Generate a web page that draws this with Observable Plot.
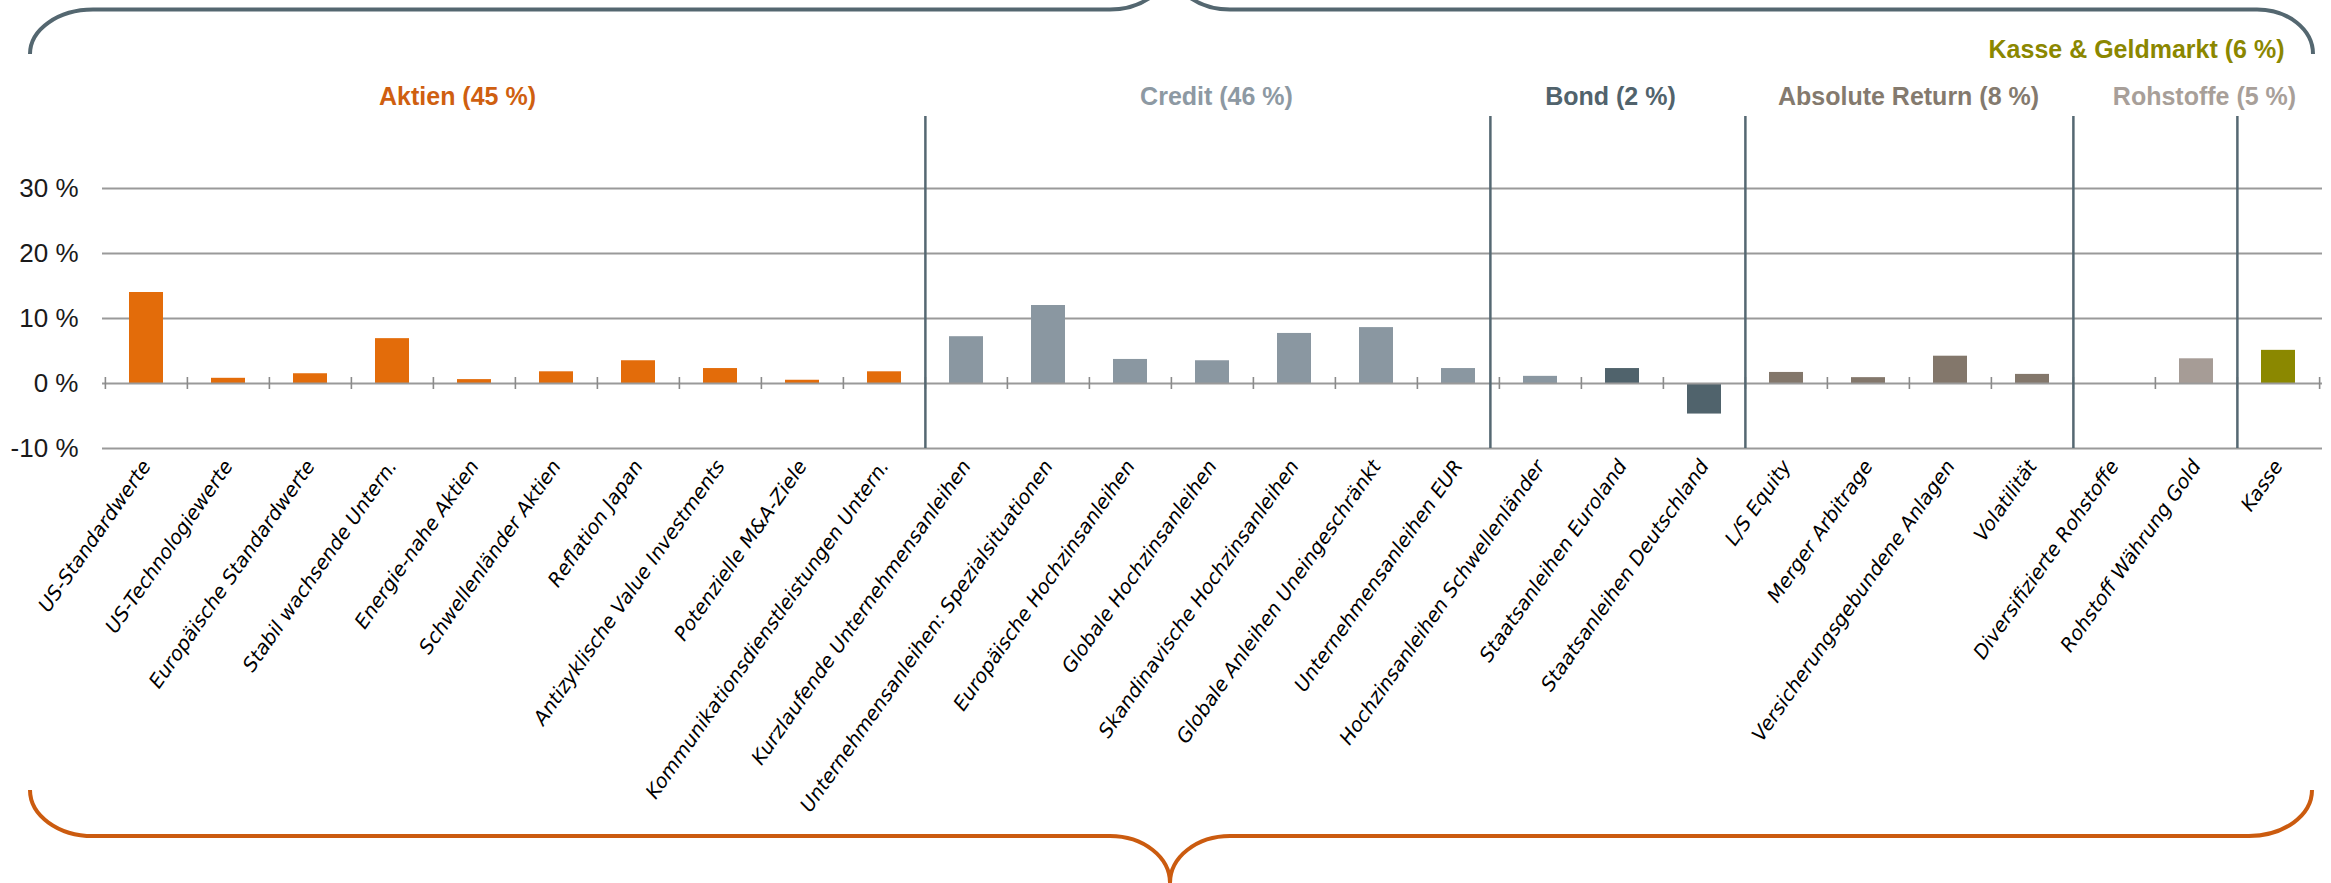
<!DOCTYPE html>
<html><head><meta charset="utf-8">
<script src="https://cdn.jsdelivr.net/npm/d3@7"></script>
<script src="https://cdn.jsdelivr.net/npm/@observablehq/plot@0.6"></script>
<style>html,body{margin:0;padding:0;background:#fff}svg{display:block}</style>
</head><body><div id="chart"></div>
<script>
const categories = [
  "US-Standardwerte","US-Technologiewerte","Europäische Standardwerte","Stabil wachsende Untern.",
  "Energie-nahe Aktien","Schwellenländer Aktien","Reflation Japan","Antizyklische Value Investments",
  "Potenzielle M&A-Ziele","Kommunikationsdienstleistungen Untern.",
  "Kurzlaufende Unternehmensanleihen","Unternehmensanleihen: Spezialsituationen","Europäische Hochzinsanleihen",
  "Globale Hochzinsanleihen","Skandinavische Hochzinsanleihen","Globale Anleihen Uneingeschränkt",
  "Unternehmensanleihen EUR","Hochzinsanleihen Schwellenländer","Staatsanleihen Euroland","Staatsanleihen Deutschland",
  "L/S Equity","Merger Arbitrage","Versicherungsgebundene Anlagen","Volatilität",
  "Diversifizierte Rohstoffe","Rohstoff Währung Gold","Kasse"
];
const values = [14.0,0.8,1.5,6.9,0.6,1.8,3.5,2.3,0.5,1.8,
  7.2,12.0,3.7,3.5,7.7,8.6,2.3,1.1,2.3,-4.7,
  1.7,0.9,4.2,1.4,0,3.8,5.1];
const barGroups = [
  "Aktien","Aktien","Aktien","Aktien","Aktien","Aktien","Aktien","Aktien","Aktien","Aktien",
  "Credit","Credit","Credit","Credit","Credit","Credit","Credit","Credit","Bond","Bond",
  "Absolute Return","Absolute Return","Absolute Return","Absolute Return",
  "Rohstoffe","Rohstoffe","Kasse"
];
const groupNames = ["Aktien","Credit","Bond","Absolute Return","Rohstoffe","Kasse"];
const barColors = ["#e36c0a","#8a97a1","#50636c","#83776b","#a69c96","#8b8800"];
const groupLabels = ["Aktien (45 %)","Credit (46 %)","Bond (2 %)","Absolute Return (8 %)","Rohstoffe (5 %)","Kasse & Geldmarkt (6 %)"];
const labelColors = ["#cf5f10","#8d99a3","#51636c","#847a6e","#a89f99","#8b8700"];
const labelAt = ["Energie-nahe Aktien","Globale Hochzinsanleihen","Staatsanleihen Euroland","Merger Arbitrage","Rohstoff Währung Gold","Kasse"];
const dividerAt = ["Kurzlaufende Unternehmensanleihen","Hochzinsanleihen Schwellenländer","L/S Equity","Diversifizierte Rohstoffe","Kasse"];
const yTicks = [-10,0,10,20,30];
const gridTicks = [-10,10,20,30];

const data = categories.map((c,i) => ({cat:c, value:values[i], group:barGroups[i]}));

const W = 2331, H = 883, ML = 102, MR = 9, MT = 188, MB = 435;
const step = (W - ML - MR) / categories.length;
const half = step / 2;
const sans = "'Liberation Sans',Arial,sans-serif";

function braces(index, scales, values, dim) {
  const ns = "http://www.w3.org/2000/svg";
  const g = document.createElementNS(ns, "g");
  const top = document.createElementNS(ns, "path");
  top.setAttribute("d",
    "M30,54 A63,44.5 0 0 1 93,9.5 H1110 A60,46.5 0 0 0 1170,-37 A60,46.5 0 0 0 1230,9.5 H2257 A56,44.5 0 0 1 2313,54");
  top.setAttribute("fill","none"); top.setAttribute("stroke","#546770"); top.setAttribute("stroke-width","4");
  const bot = document.createElementNS(ns, "path");
  bot.setAttribute("d",
    "M30,790 A63,46 0 0 0 93,836 H1110 A60,47 0 0 1 1170,883 A60,47 0 0 1 1230,836 H2249 A63,46 0 0 0 2312,790");
  bot.setAttribute("fill","none"); bot.setAttribute("stroke","#cb5b0f"); bot.setAttribute("stroke-width","4");
  g.appendChild(top); g.appendChild(bot);
  return g;
}

const boundaries = categories.map(c => ({cat:c}));

const marks = [
  braces,
  Plot.ruleY(gridTicks, {stroke:"#9a9a9a", strokeWidth:2}),
  Plot.barY(data, {x:"cat", y:"value", fill:"group"}),
  Plot.ruleY([0], {stroke:"#9a9a9a", strokeWidth:2}),
  Plot.ruleX(boundaries, {x:"cat", y1:0, y2:0, dx:-half, insetTop:-6, insetBottom:-6, stroke:"#8a8a8a", strokeWidth:1.6}),
  Plot.ruleX([categories[categories.length-1]], {x:d=>d, y1:0, y2:0, dx:half, insetTop:-6, insetBottom:-6, stroke:"#8a8a8a", strokeWidth:1.6}),
  Plot.ruleX(dividerAt.filter((d,i)=>i!==1), {x:d=>d, dx:-half, insetTop:-72, stroke:"#556872", strokeWidth:2.5}),
  Plot.ruleX([dividerAt[1]], {x:d=>d, dx:-half-9, insetTop:-72, stroke:"#556872", strokeWidth:2.5}),
  Plot.axisY({ticks:yTicks, tickFormat:d=>`${d} %`, tickSize:0, tickPadding:24, fontSize:26, fontFamily:sans, fill:"#1a1a1a", label:null}),
  Plot.axisX({tickRotate:-55, tickSize:0, tickPadding:14, fontSize:19.7, fontFamily:"'DejaVu Sans',sans-serif", fontStyle:"oblique", fill:"#000", label:null})
];
const dxs = [-17, 4, -12, 40, 8, 6];
groupLabels.forEach((lab,i) => {
  const isKasse = i === 5;
  marks.push(Plot.text([lab], {
    x: () => labelAt[i], text: d=>d, frameAnchor:"top", lineAnchor:"bottom",
    dy: isKasse ? -131 : -84, dx: dxs[i], textAnchor: isKasse ? "end" : "middle",
    fill: labelColors[i], fontSize:25, fontWeight:"bold", fontFamily:sans
  }));
});

const chart = Plot.plot({
  width: W, height: H,
  marginLeft: ML, marginRight: MR, marginTop: MT, marginBottom: MB,
  style: {background:"#fff", overflow:"visible"},
  x: {type:"band", domain:categories, paddingInner:0.59, paddingOuter:0.295, axis:null},
  y: {domain:[-10,30], axis:null},
  color: {domain:groupNames, range:barColors},
  marks
});
document.getElementById("chart").appendChild(chart);
</script></body></html>
